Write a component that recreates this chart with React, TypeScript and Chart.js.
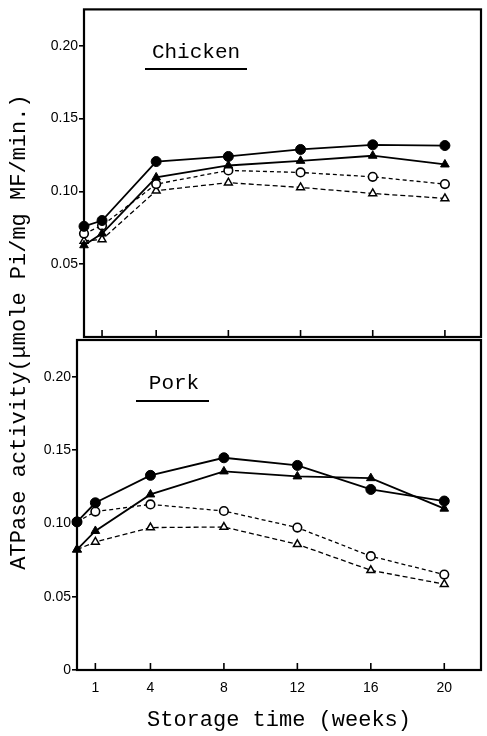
import React, { useEffect, useRef } from "react";
import { Chart, registerables } from "chart.js";
Chart.register(...registerables);

// ---- data ----
const weeks = [0, 1, 4, 8, 12, 16, 20];
const xTickValues = [1, 4, 8, 12, 16, 20];
const chickenYTicks = [0.05, 0.1, 0.15, 0.2];
const porkYTicks = [0, 0.05, 0.1, 0.15, 0.2];

const chickenFilledCircle = [0.076, 0.08, 0.1205, 0.124, 0.1288, 0.132, 0.1315];
const chickenFilledTriangle = [0.063, 0.071, 0.1096, 0.1178, 0.121, 0.1245, 0.1185];
const chickenOpenCircle = [0.071, 0.0765, 0.105, 0.1144, 0.113, 0.11, 0.105];
const chickenOpenTriangle = [0.066, 0.067, 0.1005, 0.106, 0.1027, 0.0986, 0.0952];

const porkFilledCircle = [0.101, 0.114, 0.1327, 0.1447, 0.1395, 0.1231, 0.1152];
const porkFilledTriangle = [0.0821, 0.0948, 0.1197, 0.1354, 0.132, 0.1308, 0.11];
const porkOpenCircle = [0.101, 0.108, 0.1129, 0.1084, 0.0971, 0.0776, 0.0651];
const porkOpenTriangle = [0.0821, 0.0873, 0.0971, 0.0975, 0.0857, 0.068, 0.0585];

const yTitle = "ATPase activity(\u03bcmole Pi/mg MF/min.)";
const xTitle = "Storage time (weeks)";

const MONO = '"Liberation Mono", "DejaVu Sans Mono", monospace';
const SANS = '"Liberation Sans", Arial, sans-serif';

function pts(vals: number[]) {
  return weeks.map((w, i) => ({ x: w, y: vals[i] }));
}

function makeDatasets(fc: number[], ft: number[], oc: number[], ot: number[]) {
  return [
    {
      data: pts(fc),
      borderColor: "#000",
      backgroundColor: "#000",
      borderWidth: 1.8,
      pointStyle: "circle",
      pointRadius: 5,
      pointBackgroundColor: "#000",
      pointBorderColor: "#000",
      pointBorderWidth: 1,
      tension: 0,
      clip: false,
    },
    {
      data: pts(ft),
      borderColor: "#000",
      backgroundColor: "#000",
      borderWidth: 1.8,
      pointStyle: "triangle",
      pointRadius: 5,
      pointBackgroundColor: "#000",
      pointBorderColor: "#000",
      pointBorderWidth: 1,
      tension: 0,
      clip: false,
    },
    {
      data: pts(oc),
      borderColor: "#000",
      backgroundColor: "#fff",
      borderWidth: 1.3,
      borderDash: [4, 3],
      pointStyle: "circle",
      pointRadius: 4.3,
      pointBackgroundColor: "#fff",
      pointBorderColor: "#000",
      pointBorderWidth: 1.6,
      tension: 0,
      clip: false,
    },
    {
      data: pts(ot),
      borderColor: "#000",
      backgroundColor: "#fff",
      borderWidth: 1.3,
      borderDash: [5, 3],
      pointStyle: "triangle",
      pointRadius: 4.5,
      pointBackgroundColor: "#fff",
      pointBorderColor: "#000",
      pointBorderWidth: 1.5,
      tension: 0,
      clip: false,
    },
  ];
}

const framePlugin = {
  id: "frameAndTicks",
  beforeDatasetsDraw(chart: any) {
    const { ctx, chartArea } = chart;
    const xs = chart.scales.x;
    ctx.save();
    ctx.strokeStyle = "#000";
    ctx.lineWidth = 2.2;
    ctx.strokeRect(chartArea.left, chartArea.top, chartArea.right - chartArea.left, chartArea.bottom - chartArea.top);
    ctx.lineWidth = 1.6;
    xTickValues.forEach((v) => {
      const px = xs.getPixelForValue(v);
      ctx.beginPath();
      ctx.moveTo(px, chartArea.bottom);
      ctx.lineTo(px, chartArea.bottom - 7);
      ctx.stroke();
    });
    ctx.restore();
  },
};

function labelPlugin(text: string, cx: number, cy: number, ux1: number, ux2: number, uy: number) {
  return {
    id: "panelLabel",
    afterDraw(chart: any) {
      const ctx = chart.ctx;
      ctx.save();
      ctx.fillStyle = "#000";
      ctx.font = `21px ${MONO}`;
      ctx.textAlign = "center";
      ctx.textBaseline = "middle";
      ctx.fillText(text, cx, cy);
      ctx.strokeStyle = "#000";
      ctx.lineWidth = 2;
      ctx.beginPath();
      ctx.moveTo(ux1, uy);
      ctx.lineTo(ux2, uy);
      ctx.stroke();
      ctx.restore();
    },
  };
}

const yTitlePlugin = {
  id: "yTitle",
  afterDraw(chart: any) {
    const ctx = chart.ctx;
    ctx.save();
    ctx.translate(19, 332);
    ctx.rotate(-Math.PI / 2);
    ctx.fillStyle = "#000";
    ctx.font = `22px ${MONO}`;
    ctx.textAlign = "center";
    ctx.textBaseline = "middle";
    ctx.fillText(yTitle, 0, 0);
    ctx.restore();
  },
};

function buildOptions(opts: {
  yTicks: number[];
  yWidth: number;
  xHeight: number;
  padding: any;
  showX: boolean;
}) {
  return {
    responsive: false,
    animation: false,
    devicePixelRatio: 1,
    layout: { padding: opts.padding },
    plugins: { legend: { display: false }, tooltip: { enabled: false } },
    events: [],
    scales: {
      x: {
        type: "linear",
        position: "bottom",
        min: 0,
        max: 22,
        afterBuildTicks: (s: any) => {
          s.ticks = xTickValues.map((v) => ({ value: v }));
        },
        afterFit: (s: any) => {
          s.height = opts.xHeight;
        },
        grid: { display: false, drawTicks: false },
        border: { display: false },
        ticks: {
          display: opts.showX,
          autoSkip: false,
          maxRotation: 0,
          color: "#000",
          padding: 10,
          font: { family: SANS, size: 14 },
          callback: (v: any) => String(v),
        },
        title: {
          display: opts.showX,
          text: xTitle,
          color: "#000",
          font: { family: MONO, size: 22 },
          padding: { top: 0, bottom: 3 },
        },
      },
      y: {
        type: "linear",
        min: 0,
        max: 0.225,
        afterBuildTicks: (s: any) => {
          s.ticks = opts.yTicks.map((v) => ({ value: v }));
        },
        afterFit: (s: any) => {
          s.width = opts.yWidth;
        },
        grid: {
          display: true,
          drawOnChartArea: false,
          drawTicks: true,
          tickLength: 5,
          color: "#000",
          lineWidth: 1.6,
        },
        border: { display: false },
        ticks: {
          color: "#000",
          padding: 1,
          font: { family: SANS, size: 14 },
          callback: (v: any) => (Number(v) === 0 ? "0" : Number(v).toFixed(2)),
        },
      },
    },
  };
}

export default function App() {
  const topRef = useRef<HTMLCanvasElement>(null);
  const botRef = useRef<HTMLCanvasElement>(null);

  useEffect(() => {
    const top = new Chart(topRef.current as HTMLCanvasElement, {
      type: "line",
      data: {
        datasets: makeDatasets(chickenFilledCircle, chickenFilledTriangle, chickenOpenCircle, chickenOpenTriangle) as any,
      },
      options: buildOptions({
        yTicks: chickenYTicks,
        yWidth: 84,
        xHeight: 0,
        padding: { left: 0, right: 2, top: 7, bottom: 399 },
        showX: false,
      }) as any,
      plugins: [framePlugin, labelPlugin("Chicken", 196, 52, 145, 247, 69)],
    });
    const bot = new Chart(botRef.current as HTMLCanvasElement, {
      type: "line",
      data: {
        datasets: makeDatasets(porkFilledCircle, porkFilledTriangle, porkOpenCircle, porkOpenTriangle) as any,
      },
      options: buildOptions({
        yTicks: porkYTicks,
        yWidth: 77,
        xHeight: 66,
        padding: { left: 0, right: 6, top: 340, bottom: 0 },
        showX: true,
      }) as any,
      plugins: [framePlugin, labelPlugin("Pork", 174, 383, 136, 209, 401), yTitlePlugin],
    });
    return () => {
      top.destroy();
      bot.destroy();
    };
  }, []);

  const cStyle: React.CSSProperties = { position: "absolute", left: 0, top: 0, width: 487, height: 736 };
  return (
    <div style={{ position: "absolute", left: 0, top: 0, width: 487, height: 736, background: "#fff" }}>
      <canvas ref={topRef} width={487} height={736} style={cStyle} />
      <canvas ref={botRef} width={487} height={736} style={cStyle} />
    </div>
  );
}
